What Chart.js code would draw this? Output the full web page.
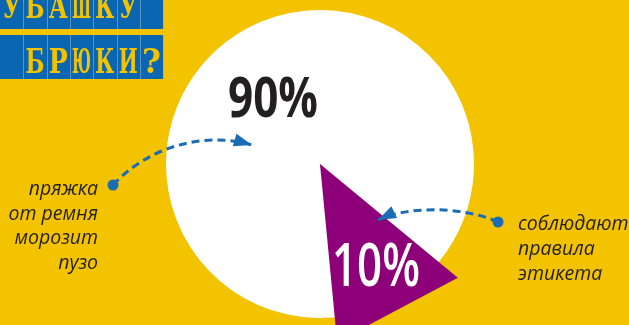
<!DOCTYPE html>
<html>
<head>
<meta charset="utf-8">
<script src="https://cdn.jsdelivr.net/npm/chart.js@4/dist/chart.umd.min.js"></script>
<style>
    html, body { margin: 0; padding: 0; background: #f3c300; }
    #wrap { width: 629px; height: 325px; }
</style>
</head>
<body>
<div id="wrap"><canvas id="pieChart" width="629" height="325"></canvas></div>
<script>
// Chart data
const categories = ['соблюдают правила этикета', 'пряжка от ремня морозит пузо'];
const shares = [10, 90];
const shareLabels = ['10%', '90%'];
const sliceColors = ['#8e0079', '#ffffff'];
const titleRows = ['УБАШКУ ', ' БРЮКИ?'];
const noteLines = [
    ['соблюдают', 'правила', 'этикета'],
    ['пряжка', 'от ремня', 'морозит', 'пузо']
];

const YELLOW = '#f3c300';
const BLUE = '#1a6cb5';
const INK = '#231f20';

// Dashed curved arrow with a dot at the start
function drawArrow(ctx, p0, c1, c2, p1) {
    ctx.save();
    ctx.strokeStyle = BLUE;
    ctx.fillStyle = BLUE;
    ctx.lineWidth = 3;
    ctx.setLineDash([8, 5]);
    ctx.beginPath();
    ctx.moveTo(p0[0], p0[1]);
    ctx.bezierCurveTo(c1[0], c1[1], c2[0], c2[1], p1[0], p1[1]);
    ctx.stroke();
    ctx.setLineDash([]);

    ctx.beginPath();
    ctx.arc(p0[0], p0[1], 5.5, 0, Math.PI * 2);
    ctx.fill();

    const a = Math.atan2(p1[1] - c2[1], p1[0] - c2[0]);
    const len = 18, half = 6.5;
    const bx = p1[0] - len * Math.cos(a), by = p1[1] - len * Math.sin(a);
    ctx.beginPath();
    ctx.moveTo(p1[0], p1[1]);
    ctx.lineTo(bx + half * Math.sin(a), by - half * Math.cos(a));
    ctx.lineTo(bx - half * Math.sin(a), by + half * Math.cos(a));
    ctx.closePath();
    ctx.fill();
    ctx.restore();
}

// Blue typewriter title boxes
function drawTitle(ctx) {
    const cell = 23.3;
    const rows = [{ y: 0, h: 29, base: 18 }, { y: 35, h: 44, base: 73 }];
    ctx.save();
    titleRows.forEach((text, i) => {
        const r = rows[i];
        ctx.fillStyle = '#0b66b1';
        ctx.fillRect(0, r.y, cell * text.length, r.h);
        ctx.strokeStyle = 'rgba(150,185,215,0.55)';
        ctx.lineWidth = 1;
        for (let k = 1; k < text.length; k++) {
            ctx.beginPath();
            ctx.moveTo(Math.round(k * cell) + 0.5, r.y);
            ctx.lineTo(Math.round(k * cell) + 0.5, r.y + r.h);
            ctx.stroke();
        }
        ctx.fillStyle = YELLOW;
        ctx.font = 'bold 33px "DejaVu Serif"';
        ctx.textAlign = 'center';
        ctx.textBaseline = 'alphabetic';
        [...text].forEach((ch, k) => {
            ctx.fillText(ch, k * cell + cell / 2, r.base, 19);
        });
    });
    ctx.restore();
}

const posterPlugin = {
    id: 'poster',
    beforeDraw(chart) {
        const ctx = chart.ctx;
        ctx.save();
        ctx.fillStyle = YELLOW;
        ctx.fillRect(0, 0, chart.width, chart.height);
        ctx.restore();
    },
    afterDatasetsDraw(chart) {
        const ctx = chart.ctx;
        const meta = chart.getDatasetMeta(0);
        const small = meta.data[0].getProps(['x', 'y', 'startAngle', 'endAngle', 'outerRadius'], true);
        const cx = small.x, cy = small.y;

        // Small slice drawn as a sharp wedge poking out of the circle
        const flare = 4.5 * Math.PI / 180;
        const r = small.outerRadius * 1.16;
        ctx.save();
        ctx.fillStyle = sliceColors[0];
        ctx.beginPath();
        ctx.moveTo(cx, cy);
        ctx.lineTo(cx + r * Math.cos(small.startAngle - flare), cy + r * Math.sin(small.startAngle - flare));
        ctx.lineTo(cx + r * Math.cos(small.endAngle + flare), cy + r * Math.sin(small.endAngle + flare));
        ctx.closePath();
        ctx.fill();

        // Percent labels
        ctx.textAlign = 'left';
        ctx.textBaseline = 'alphabetic';
        ctx.fillStyle = INK;
        ctx.font = 'bold 56px "Open Sans"';
        ctx.fillText(shareLabels[1], cx - 92, cy - 47, 90);
        ctx.fillStyle = '#ffffff';
        ctx.font = '600 59px "Open Sans"';
        ctx.fillText(shareLabels[0], cx + 12, cy + 122, 88);

        // Notes
        ctx.fillStyle = INK;
        ctx.font = 'italic 19.5px "Open Sans"';
        ctx.textAlign = 'left';
        noteLines[0].forEach((t, i) => ctx.fillText(t, 518, 230 + i * 25));
        ctx.textAlign = 'right';
        noteLines[1].forEach((t, i) => ctx.fillText(t, 98, 195 + i * 24.6));
        ctx.restore();

        drawArrow(ctx, [113, 185], [145, 150], [200, 130], [252, 145]);
        drawArrow(ctx, [498, 222], [460, 205], [405, 207], [378, 220]);

        drawTitle(ctx);
    }
};

new Chart(document.getElementById('pieChart'), {
    type: 'pie',
    data: {
        labels: categories,
        datasets: [{
            data: shares,
            backgroundColor: sliceColors,
            borderWidth: 0
        }]
    },
    options: {
        responsive: false,
        devicePixelRatio: 1,
        animation: false,
        rotation: 134,
        layout: { padding: { left: 11, right: 0, top: 10, bottom: 7 } },
        plugins: {
            legend: { display: false },
            tooltip: { enabled: false }
        }
    },
    plugins: [posterPlugin]
});
</script>
</body>
</html>
